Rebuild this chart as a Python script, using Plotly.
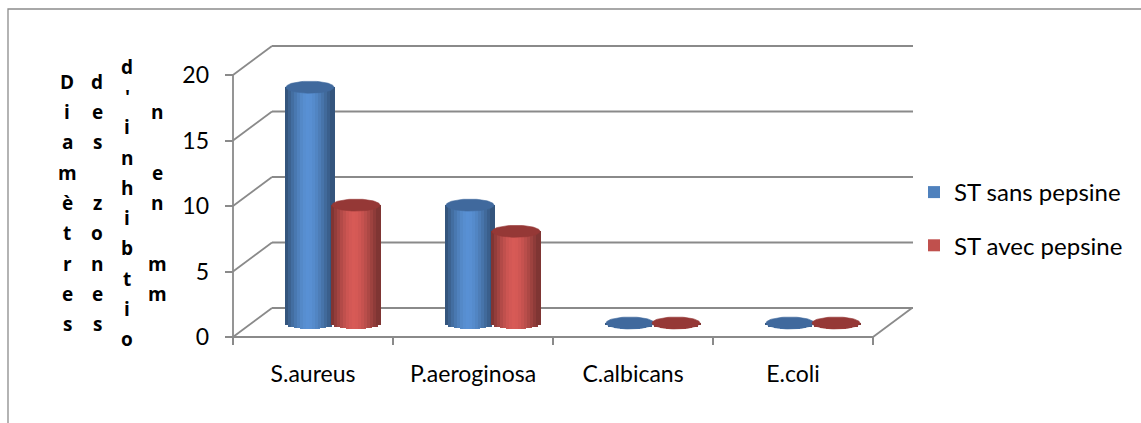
import numpy as np
import plotly.graph_objects as go

# ---- data ----
categories = ["S.aureus", "P.aeroginosa", "C.albicans", "E.coli"]
sans_pepsine = [18, 9, 0, 0]
avec_pepsine = [9, 7, 0, 0]
series_names = ["ST sans pepsine", "ST avec pepsine"]
y_ticks = [0, 5, 10, 15, 20]
title_columns = ["Diamètres", "des zones", "d'inhibtio", "n en mm"]

# ---- geometry (pixels) ----
W, H = 1141, 423
PL, PR, PT, PB = 225, 915, 30, 345          # plot area
X0_PX, Y0_PX = 233, 337                      # front-plane origin
PX_PER_CAT, PX_PER_UNIT = 160.0, 13.1
MID_DX, MID_DY = 20, 14                      # cylinder plane shift
BACK_DX, BACK_DY = 39, 29                    # back wall shift

x_rng = [(PL - X0_PX) / PX_PER_CAT, (PR - X0_PX) / PX_PER_CAT]
y_rng = [-(PB - Y0_PX) / PX_PER_UNIT, (Y0_PX - PT) / PX_PER_UNIT]
x2_rng = [v - MID_DX / PX_PER_CAT for v in x_rng]
y2_rng = [v - MID_DY / PX_PER_UNIT for v in y_rng]

BLUE = (79, 129, 189)
RED = (192, 80, 77)
TOP_COLORS = ["#40699D", "#953836"]
GRID = "#8A8A8A"
FONT = "Lato, 'Open Sans', sans-serif"
TITLE_FONT = "'Open Sans', 'DejaVu Sans', sans-serif"

CYL_W = 48 / PX_PER_CAT                      # cylinder width in category units
SERIES_OFF = [-23 / PX_PER_CAT, 23 / PX_PER_CAT]
ELL_RY = 6 / PX_PER_UNIT                     # half-height of end ellipses
shade = [0.66, 0.76, 0.85, 0.93, 1.0, 1.06, 1.1, 1.12,
         1.11, 1.08, 1.03, 0.97, 0.9, 0.82, 0.74, 0.66]
N = len(shade)
sw = CYL_W / N


def tint(rgb, f):
    return "rgb({},{},{})".format(*[int(min(255, round(c * f))) for c in rgb])


fig = go.Figure()

for s, (vals, base_rgb) in enumerate(zip([sans_pepsine, avec_pepsine], [BLUE, RED])):
    centers = [i + 0.5 + SERIES_OFF[s] for i in range(len(categories))]
    # cylinder body as vertical shaded strips
    for k in range(N):
        u = ((k + 0.5) / N) * 2 - 1
        dip = ELL_RY * np.sqrt(1 - u * u)
        xs = [c - CYL_W / 2 + (k + 0.5) * sw for c in centers]
        fig.add_trace(go.Bar(
            x=xs, y=[v + dip for v in vals], base=[-dip] * len(vals),
            width=sw * 1.35, marker=dict(color=tint(base_rgb, shade[k]), line=dict(width=0)),
            xaxis="x2", yaxis="y2", name=series_names[s], legendgroup=series_names[s],
            showlegend=(k == 4), hoverinfo="skip",
        ))
    # top ellipses
    t = np.linspace(0, 2 * np.pi, 73)
    ex, ey = [], []
    for c, v in zip(centers, vals):
        ex += list(c + CYL_W / 2 * np.cos(t)) + [None]
        ey += list(v + ELL_RY * np.sin(t)) + [None]
    fig.add_trace(go.Scatter(
        x=ex, y=ey, mode="lines", fill="toself", fillcolor=TOP_COLORS[s],
        line=dict(color=TOP_COLORS[s], width=0.6), xaxis="x2", yaxis="y2",
        showlegend=False, hoverinfo="skip",
    ))

# ---- 3D frame: back wall gridlines, floor, front axis ----
bdx, bdy = BACK_DX / PX_PER_CAT, BACK_DY / PX_PER_UNIT
x_end = (913 - X0_PX) / PX_PER_CAT
n_cat = len(categories)
shapes = []
line = dict(color=GRID, width=1.8)
for v in y_ticks:
    shapes.append(dict(type="line", xref="x", yref="y", x0=0, y0=v, x1=bdx, y1=v + bdy, line=line, layer="below"))
    shapes.append(dict(type="line", xref="x", yref="y", x0=bdx, y0=v + bdy, x1=x_end, y1=v + bdy, line=line, layer="below"))
shapes.append(dict(type="line", xref="x", yref="y", x0=0, y0=0, x1=0, y1=y_ticks[-1], line=line, layer="below"))
shapes.append(dict(type="line", xref="x", yref="y", x0=0, y0=0, x1=n_cat, y1=0, line=line, layer="below"))
shapes.append(dict(type="line", xref="x", yref="y", x0=n_cat, y0=0, x1=n_cat + bdx, y1=bdy, line=line, layer="below"))

# outer chart border
pw, ph = PR - PL, PB - PT
shapes.append(dict(type="rect", xref="paper", yref="paper",
                   x0=(8 - PL) / pw, x1=(W + 6 - PL) / pw,
                   y0=(PB - (H + 6)) / ph, y1=(PB - 9) / ph,
                   line=dict(color="#8C8C8C", width=1.3), layer="below"))

# ---- stacked vertical axis title ----
annotations = []
col_x0, col_step, row_mid, row_step = 67, 30, 203, 30.3
for j, col in enumerate(title_columns):
    n = len(col)
    for r, ch in enumerate(col):
        if ch == " ":
            continue
        py = row_mid + (r - (n - 1) / 2) * row_step
        px = col_x0 + j * col_step
        annotations.append(dict(
            text="<b>" + ch + "</b>", x=(px - PL) / pw, y=(PB - py) / ph,
            xref="paper", yref="paper",
            showarrow=False, xanchor="center", yanchor="middle",
            font=dict(family=TITLE_FONT, size=19, color="#000000"),
        ))

fig.update_layout(
    width=W, height=H,
    margin=dict(l=PL, r=W - PR, t=PT, b=H - PB, autoexpand=False),
    paper_bgcolor="white", plot_bgcolor="rgba(0,0,0,0)",
    barmode="overlay", bargap=0,
    shapes=shapes, annotations=annotations,
    font=dict(family=FONT, size=23, color="#000000"),
    xaxis=dict(range=x_rng, tickmode="array",
               tickvals=[i + 0.5 for i in range(n_cat)], ticktext=categories,
               ticks="outside", ticklen=8, tickcolor="rgba(0,0,0,0)",
               tickfont=dict(family=FONT, size=23, color="#000000"),
               minor=dict(tickmode="array", tickvals=list(range(n_cat + 1)),
                          ticks="inside", ticklen=8, tickcolor=GRID, tickwidth=1.8,
                          showgrid=False),
               showgrid=False, zeroline=False, showline=False, fixedrange=True),
    yaxis=dict(range=y_rng, tickvals=y_ticks, ticktext=[str(v) for v in y_ticks],
               ticks="inside", ticklen=8, tickcolor=GRID, tickwidth=1.8,
               ticklabelstandoff=15,
               tickfont=dict(family=FONT, size=23, color="#000000"),
               showgrid=False, zeroline=False, showline=False),
    xaxis2=dict(range=x2_rng, overlaying="x", anchor="y2", visible=False),
    yaxis2=dict(range=y2_rng, overlaying="y", anchor="x2", visible=False),
    legend=dict(x=(914 - PL) / pw, y=(PB - 219) / ph, xanchor="left", yanchor="middle",
                bgcolor="rgba(0,0,0,0)", tracegroupgap=19, traceorder="grouped",
                font=dict(family=FONT, size=24, color="#000000")),
    showlegend=True,
)

fig.write_html("out.html")
